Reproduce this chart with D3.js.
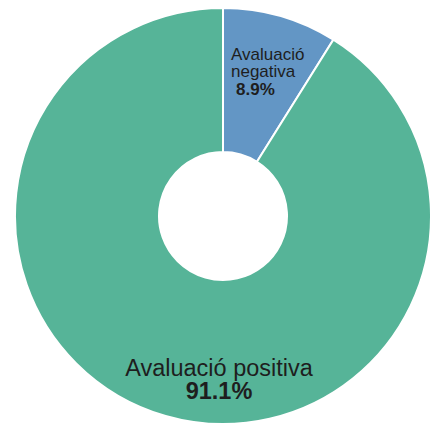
<!DOCTYPE html>
<html>
<head>
<meta charset="utf-8">
<script src="https://cdn.jsdelivr.net/npm/d3@7"></script>
<style>
  html, body { margin: 0; padding: 0; background: #ffffff; }
  svg { display: block; }
  text { font-family: "Liberation Sans", Arial, sans-serif; fill: #1e1e1e; }
</style>
</head>
<body>
<svg id="chart" width="431" height="426"></svg>
<script>
const categories = ["Avaluació negativa", "Avaluació positiva"];
const values = [8.9, 91.1];
const valueLabels = ["8.9%", "91.1%"];
const colors = ["#6396c5", "#56b498"];

const width = 431, height = 426;
const cx = 223, cy = 216;
const outerR = 208, innerR = 64;

const svg = d3.select("#chart");
const g = svg.append("g").attr("transform", `translate(${cx},${cy})`);

const data = categories.map((c, i) => ({ name: c, value: values[i], label: valueLabels[i], color: colors[i] }));

const pie = d3.pie().value(d => d.value).sort(null);
const arc = d3.arc().innerRadius(innerR).outerRadius(outerR);
const arcs = pie(data);

g.selectAll("path.slice")
  .data(arcs)
  .enter().append("path")
  .attr("class", "slice")
  .attr("d", arc)
  .attr("fill", d => d.data.color)
  .attr("stroke", "#ffffff")
  .attr("stroke-width", 2);

// Negative label (small slice): left-aligned lines
const neg = g.append("text")
  .attr("font-size", 17)
  .attr("text-anchor", "start");
neg.append("tspan").attr("x", 8).attr("y", -156).text("Avaluació");
neg.append("tspan").attr("x", 8).attr("y", -139).text("negativa");
neg.append("tspan").attr("x", 13).attr("y", -121).attr("font-weight", "bold").text(valueLabels[0]);

// Positive label (big slice): centered lines
const pos = g.append("text")
  .attr("text-anchor", "middle");
pos.append("tspan").attr("x", -4).attr("y", 160).attr("font-size", 23.5).text("Avaluació positiva");
pos.append("tspan").attr("x", -4).attr("y", 183).attr("font-size", 23.5).attr("font-weight", "bold").text(valueLabels[1]);
</script>
</body>
</html>
